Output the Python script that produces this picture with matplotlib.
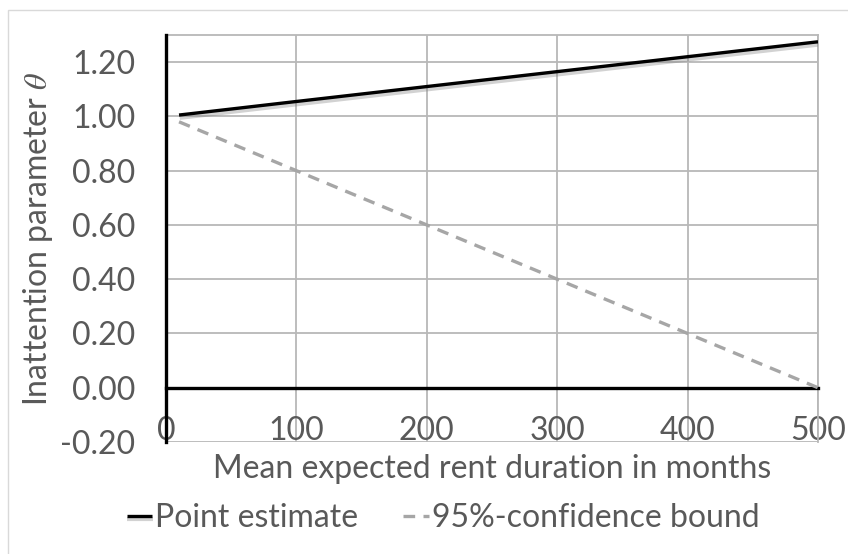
import matplotlib
matplotlib.use("Agg")
import matplotlib.pyplot as plt
import matplotlib.patheffects as pe
from matplotlib.patches import Rectangle

# values
months = [10, 100, 200, 300, 400, 500]
pointEstimate = [1.005, 1.055, 1.11, 1.165, 1.22, 1.275]
lowerBound = [0.98, 0.80, 0.60, 0.40, 0.20, 0.00]
xTicks = [0, 100, 200, 300, 400, 500]
yTicks = [-0.2, 0.0, 0.2, 0.4, 0.6, 0.8, 1.0, 1.2]

textColor = "#595959"
gridColor = "#b8b8b8"
fontSize = 23

plt.rcParams['font.family'] = ['Lato', 'DejaVu Sans']
plt.rcParams['mathtext.fontset'] = 'stix'

fig = plt.figure(figsize=(8.48, 5.54), dpi=100)
ax = fig.add_axes([166 / 848, 1 - 442 / 554, (818 - 166) / 848, (442 - 35) / 554])

# outer chart border like the Excel chart area
fig.patches.append(Rectangle((8 / 848, -0.1), 1.2, 1 - 10 / 554 + 0.1,
                             transform=fig.transFigure, fill=False,
                             edgecolor="#d9d9d9", lw=1))

ax.plot(months, pointEstimate, color="black", lw=2.4, solid_capstyle="butt",
        label="Point estimate", zorder=4,
        path_effects=[pe.SimpleLineShadow(offset=(0.5, -2), shadow_color="gray",
                                          alpha=0.35, linewidth=3),
                      pe.Normal()])
ax.plot(months, lowerBound, color="#a6a6a6", lw=2.4, ls=(0, (3.5, 2.5)),
        label="95%-confidence bound", zorder=4)

ax.set_xlim(0, 500)
ax.set_ylim(-0.2, 1.3)
ax.set_xticks(xTicks)
ax.set_yticks(yTicks)
ax.set_yticklabels([f"{v:.2f}" for v in yTicks])
ax.grid(True, color=gridColor, lw=1.3)
ax.set_axisbelow(True)

ax.spines['bottom'].set_position(('data', 0))
for side in ['bottom', 'left']:
    ax.spines[side].set_color("black")
    ax.spines[side].set_linewidth(2.4)
    ax.spines[side].set_zorder(3)
for side in ['top', 'right']:
    ax.spines[side].set_color(gridColor)
    ax.spines[side].set_linewidth(1.3)

ax.tick_params(axis='both', length=0, labelsize=fontSize, labelcolor=textColor)
ax.tick_params(axis='y', pad=22)
ax.tick_params(axis='x', pad=20)

ax.set_xlabel("Mean expected rent duration in months", fontsize=fontSize,
              color=textColor)
ax.xaxis.set_label_coords(0.5, -0.03)
ax.set_ylabel(r"Inattention parameter $\theta$", fontsize=fontSize, color=textColor)
ax.yaxis.set_label_coords(-0.17, 0.5)

leg = fig.legend(loc="center", bbox_to_anchor=(443 / 848, 1 - 518 / 554), ncol=2,
                 frameon=False, fontsize=fontSize, handlelength=0.8, handletextpad=0.1,
                 columnspacing=1.4, labelcolor=textColor)

plt.savefig("out.png", dpi=100)
plt.close()
